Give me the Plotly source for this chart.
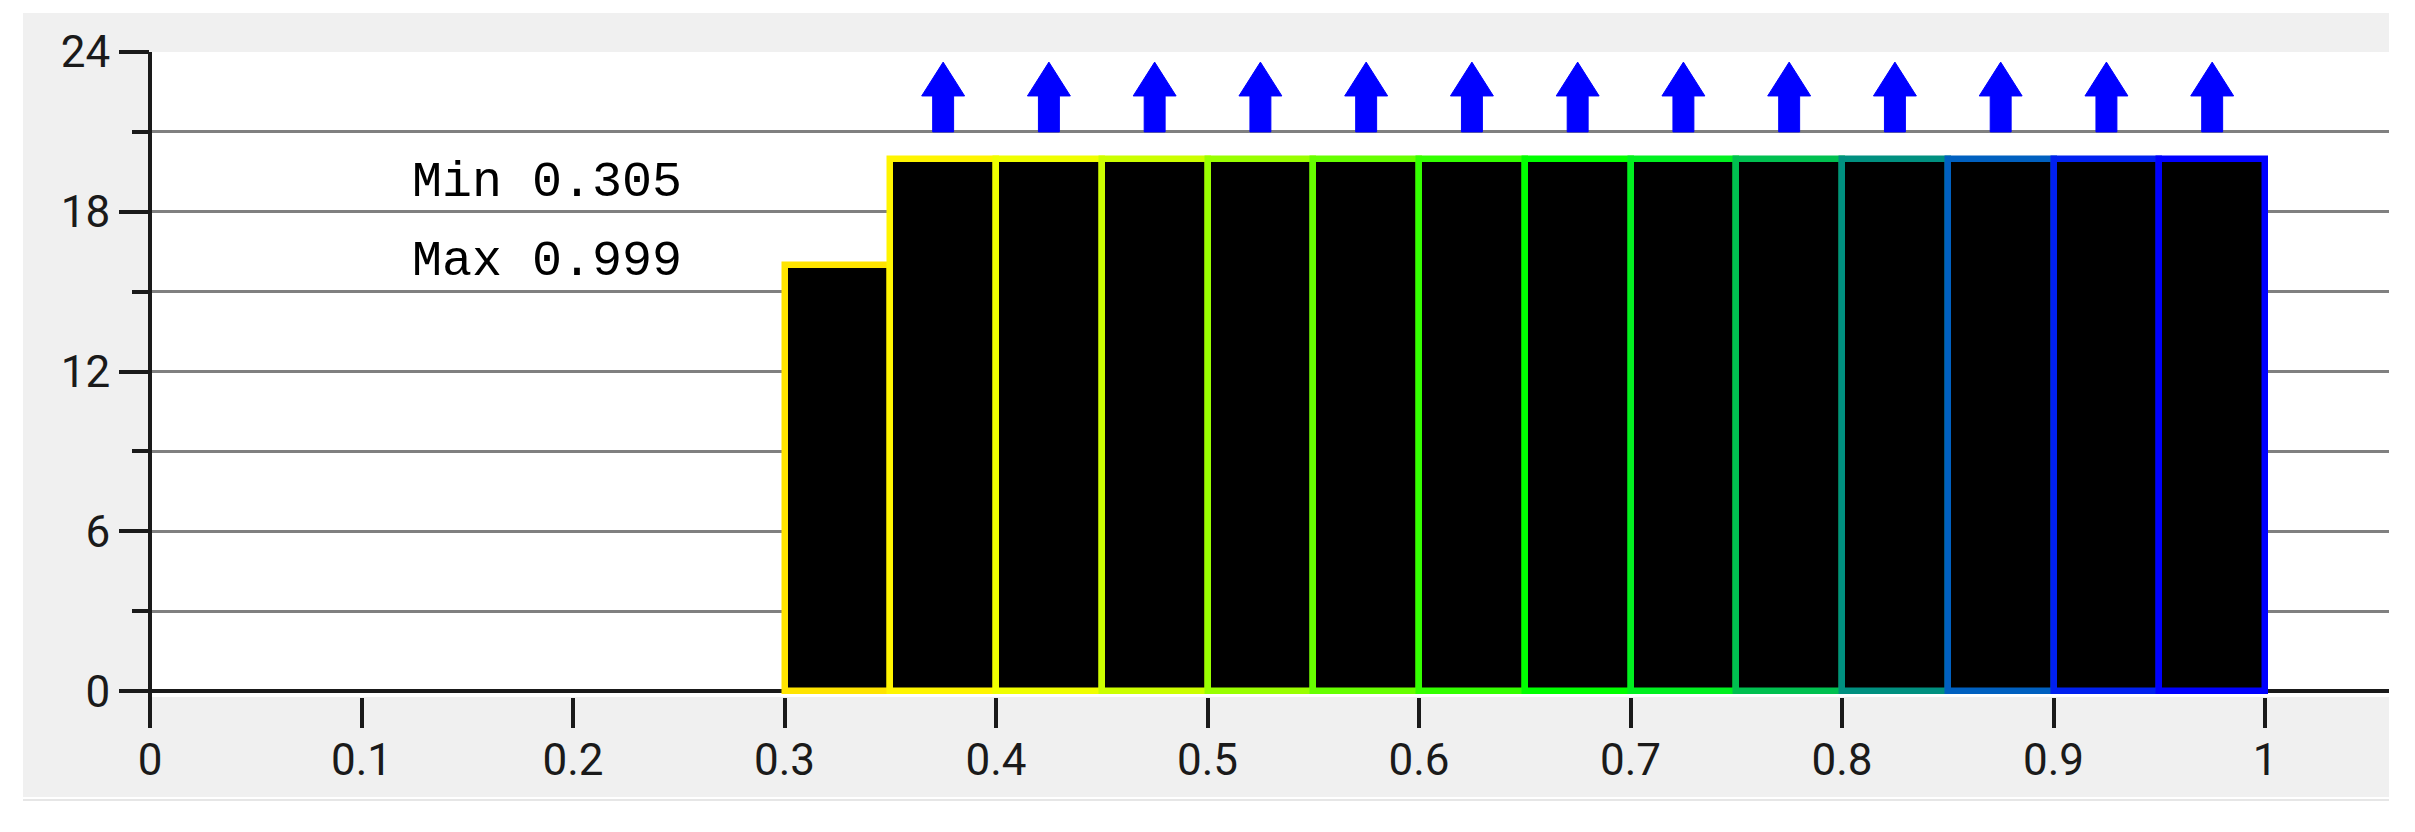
import plotly.graph_objects as go

# ---- data ----
bin_left = [0.30, 0.35, 0.40, 0.45, 0.50, 0.55, 0.60, 0.65, 0.70, 0.75, 0.80, 0.85, 0.90, 0.95]
counts = [16, 20, 20, 20, 20, 20, 20, 20, 20, 20, 20, 20, 20, 20]
overflow = [False, True, True, True, True, True, True, True, True, True, True, True, True, True]
border_colors = ["#FFE400", "#FFF500", "#F0FF00", "#CCFF00", "#99FF00", "#66FF00", "#33FF00",
                 "#00FF00", "#00F020", "#00C050", "#009080", "#0060C0", "#0020F0", "#0000FF"]
bin_width = 0.05
x_tickvals = [0.0, 0.1, 0.2, 0.3, 0.4, 0.5, 0.6, 0.7, 0.8, 0.9, 1.0]
x_ticktext = ["0", "0.1", "0.2", "0.3", "0.4", "0.5", "0.6", "0.7", "0.8", "0.9", "1"]
y_tickvals = [0, 6, 12, 18, 24]
y_minorvals = [3, 9, 15, 21]
stats_text = ["Min 0.305", "Max 0.999"]

# ---- style constants ----
TICK_FONT = dict(family="Liberation Sans Narrow, Arial Narrow, Roboto, sans-serif", size=44, color="#1a1a1a")
ARROW_BASE, ARROW_NECK, ARROW_TIP = 21.0, 22.35, 23.62
HEAD_W, SHAFT_W = 0.0203, 0.0099

centers = [l + bin_width / 2 for l in bin_left]

fig = go.Figure()
fig.add_trace(go.Bar(
    x=centers, y=counts, width=bin_width,
    marker=dict(color="black", line=dict(color=border_colors, width=6.5)),
    showlegend=False, hoverinfo="skip",
))

# overflow arrows, built from the bin centres
ax, ay = [], []
for c, o in zip(centers, overflow):
    if not o:
        continue
    ax += [c - SHAFT_W / 2, c - SHAFT_W / 2, c - HEAD_W / 2, c, c + HEAD_W / 2,
           c + SHAFT_W / 2, c + SHAFT_W / 2, c - SHAFT_W / 2, None]
    ay += [ARROW_BASE, ARROW_NECK, ARROW_NECK, ARROW_TIP, ARROW_NECK,
           ARROW_NECK, ARROW_BASE, ARROW_BASE, None]
fig.add_trace(go.Scatter(x=ax, y=ay, mode="lines", fill="toself", fillcolor="#0000FF",
                         line=dict(color="#0000FF", width=1), showlegend=False, hoverinfo="skip"))

# stats annotations
for txt, yv in zip(stats_text, [19.1, 16.15]):
    fig.add_annotation(x=0.1877, y=yv, xref="x", yref="y", text=txt, showarrow=False,
                       font=dict(family="Liberation Mono, DejaVu Sans Mono, monospace", size=50, color="black"))

W, H = 2415, 832
L, R, T, B = 150, 26, 52, 135
pw, ph = W - L - R, H - T - B


def py(p):
    """pixel row -> paper y"""
    return (H - B - p) / ph


def px(p):
    """pixel column -> paper x"""
    return (p - L) / pw


shapes = [
    # white margins around the grey panel
    dict(type="rect", xref="paper", yref="paper", x0=px(-5), x1=px(23), y0=py(H + 5), y1=py(-5),
         fillcolor="white", line=dict(width=0), layer="below"),
    dict(type="rect", xref="paper", yref="paper", x0=px(-5), x1=px(W + 5), y0=py(13), y1=py(-5),
         fillcolor="white", line=dict(width=0), layer="below"),
    dict(type="rect", xref="paper", yref="paper", x0=px(-5), x1=px(W + 5), y0=py(H + 5), y1=py(797),
         fillcolor="white", line=dict(width=0), layer="below"),
    dict(type="rect", xref="paper", yref="paper", x0=1, x1=px(W + 5), y0=py(H + 5), y1=py(-5),
         fillcolor="white", line=dict(width=0), layer="below"),
    dict(type="line", xref="paper", yref="paper", x0=px(23), x1=1, y0=py(800), y1=py(800),
         line=dict(color="#E6E6E6", width=2), layer="below"),
    # y axis line, extending below the plot
    dict(type="line", xref="paper", yref="paper", x0=0, x1=0, y0=py(727), y1=1,
         line=dict(color="#1a1a1a", width=4), layer="above"),
]

fig.update_layout(
    width=W, height=H,
    margin=dict(l=L, r=R, t=T, b=B, pad=0, autoexpand=False),
    paper_bgcolor="#F0F0F0", plot_bgcolor="white",
    bargap=0, shapes=shapes,
    xaxis=dict(range=[0, 1.0586], tickmode="array", tickvals=x_tickvals, ticktext=x_ticktext,
               ticks="outside", ticklen=30, tickwidth=3.5, tickcolor="#1a1a1a",
               showgrid=False, zeroline=False, showline=False, tickfont=TICK_FONT,
               ticklabelstandoff=-6, automargin=False, fixedrange=True),
    yaxis=dict(range=[-0.22, 24], tickmode="array", tickvals=y_tickvals,
               ticks="outside", ticklen=30, tickwidth=3.5, tickcolor="#1a1a1a",
               showgrid=True, gridcolor="#808080", gridwidth=3,
               zeroline=True, zerolinecolor="#1a1a1a", zerolinewidth=4,
               showline=False, tickfont=TICK_FONT, ticklabelstandoff=0, automargin=False,
               minor=dict(tickmode="array", tickvals=y_minorvals, ticks="outside", ticklen=17,
                          tickwidth=3.5, tickcolor="#1a1a1a", showgrid=True,
                          gridcolor="#808080", gridwidth=3),
               fixedrange=True),
)

fig.write_html("out.html", config={"displayModeBar": False},
               post_script="document.body.style.margin='0';document.body.style.overflow='hidden';")
